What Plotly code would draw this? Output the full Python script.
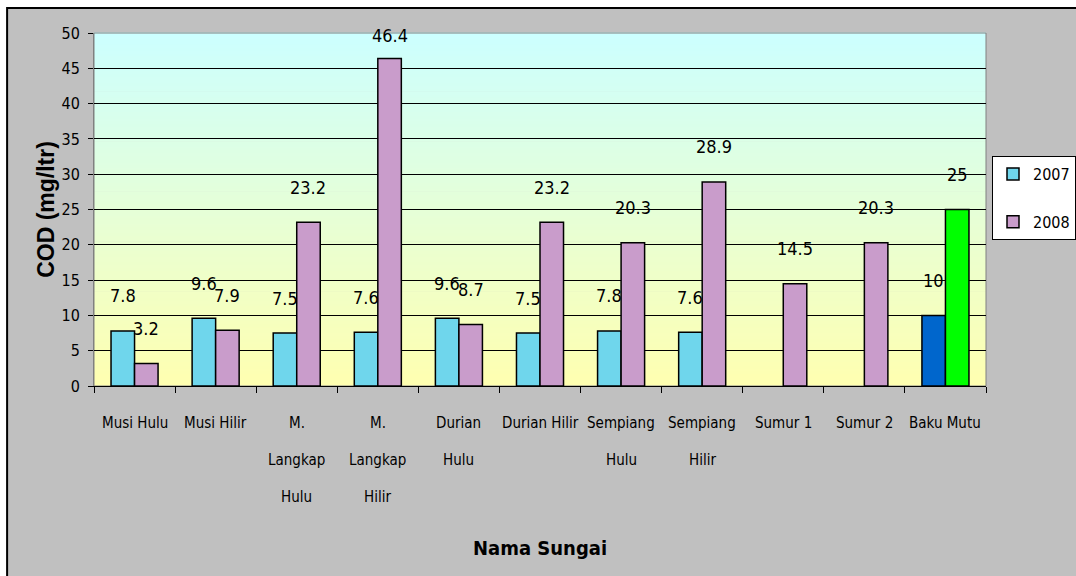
import plotly.graph_objects as go

# ---- data ----
categories = ["Musi Hulu", "Musi Hilir", "M. Langkap Hulu", "M. Langkap Hilir",
              "Durian Hulu", "Durian Hilir", "Sempiang Hulu", "Sempiang Hilir",
              "Sumur 1", "Sumur 2", "Baku Mutu"]
tick_lines = [["Musi Hulu"], ["Musi Hilir"], ["M.", "Langkap", "Hulu"], ["M.", "Langkap", "Hilir"],
              ["Durian", "Hulu"], ["Durian Hilir"], ["Sempiang", "Hulu"], ["Sempiang", "Hilir"],
              ["Sumur 1"], ["Sumur 2"], ["Baku Mutu"]]
v2007 = [7.8, 9.6, 7.5, 7.6, 9.6, 7.5, 7.8, 7.6, None, None, 10]
v2008 = [3.2, 7.9, 23.2, 46.4, 8.7, 23.2, 20.3, 28.9, 14.5, 20.3, 25]
series_names = ["2007", "2008"]
y_ticks = [0, 5, 10, 15, 20, 25, 30, 35, 40, 45, 50]

# ---- style ----
NARROW = "Liberation Sans Narrow, Arial Narrow, DejaVu Sans Condensed, Liberation Sans, sans-serif"
W, H = 1076, 576
ML, MR, MT, MB = 94, 90, 33, 190
BARGAP = 0.42
c2007 = ["#6FD6EC"] * (len(categories) - 1) + ["#0066CC"]
c2008 = ["#C99CCB"] * (len(categories) - 1) + ["#00FF00"]

fig = go.Figure()
fig.add_bar(x=categories, y=v2007, name=series_names[0],
            marker=dict(color=c2007, line=dict(color="black", width=1.5)))
fig.add_bar(x=categories, y=v2008, name=series_names[1],
            marker=dict(color=c2008, line=dict(color="black", width=1.5)))

shapes = []
# outer grey frame
shapes.append(dict(type="rect", xref="paper", yref="paper",
                   x0=(8 - ML) / (W - ML - MR) - 0.001, x1=1.3,
                   y0=-0.8, y1=1 + (MT - 8) / (H - MT - MB),
                   fillcolor="#C0C0C0", line=dict(color="black", width=2), layer="below"))
# gradient plot background (light cyan top -> pale yellow bottom)
N = 120
top = (204, 255, 255)
bot = (255, 255, 176)
for i in range(N):
    t = (i + 0.5) / N
    col = tuple(round(bot[k] + (top[k] - bot[k]) * t) for k in range(3))
    shapes.append(dict(type="rect", xref="paper", yref="paper",
                       x0=0, x1=1, y0=i / N, y1=(i + 1) / N + 0.002,
                       fillcolor="rgb(%d,%d,%d)" % col, line=dict(width=0), layer="below"))
# plot border
shapes.append(dict(type="rect", xref="paper", yref="paper", x0=0, x1=1, y0=0, y1=1,
                   line=dict(color="#808080", width=1), layer="below"))

annotations = []
plot_w = W - ML - MR
cat_w = plot_w / len(categories)
bar_w = cat_w * (1 - BARGAP) / 2
px_per_unit = (H - MT - MB) / 50.0
for vals, sgn in ((v2007, -1), (v2008, 1)):
    for cat, v in zip(categories, vals):
        if v is None:
            continue
        ylab = min(v + 35 / px_per_unit, 49.7)
        annotations.append(dict(x=cat, y=ylab, xref="x", yref="y", text=f"{v:g}",
                                showarrow=False, xshift=sgn * bar_w / 2,
                                font=dict(family=NARROW, size=18, color="black"),
                                xanchor="center", yanchor="middle"))
# category labels (multi-line with wide line spacing)
for cat, lines in zip(categories, tick_lines):
    for j, line in enumerate(lines):
        annotations.append(dict(x=cat, y=0, xref="x", yref="y", text=line,
                                showarrow=False, yshift=-(37 + 37 * j),
                                font=dict(family=NARROW, size=15, color="black"),
                                xanchor="center", yanchor="middle"))
# x title
annotations.append(dict(x=0.5, y=-(548 - (H - MB)) / (H - MT - MB), xref="paper", yref="paper",
                        text="<b>Nama Sungai</b>", showarrow=False,
                        font=dict(family=NARROW, size=20, color="black"),
                        xanchor="center", yanchor="middle"))

fig.update_layout(
    width=W, height=H,
    margin=dict(l=ML, r=MR, t=MT, b=MB, autoexpand=False),
    paper_bgcolor="white", plot_bgcolor="rgba(0,0,0,0)",
    barmode="group", bargap=BARGAP, bargroupgap=0,
    shapes=shapes, annotations=annotations,
    showlegend=True,
    legend=dict(x=(992 - ML) / plot_w, xanchor="left", y=(H - MB - 198) / (H - MT - MB),
                yanchor="middle", bgcolor="white", bordercolor="black", borderwidth=1,
                font=dict(family=NARROW, size=16, color="black"),
                itemwidth=30, tracegroupgap=24),
    xaxis=dict(type="category", showticklabels=False, ticks="outside", ticklen=6,
               tickcolor="black", tickson="boundaries", showline=True, linecolor="black",
               linewidth=1, showgrid=False, fixedrange=True),
    yaxis=dict(range=[0, 50], tickvals=y_ticks, ticks="outside", ticklen=5, tickcolor="black",
               showgrid=True, gridcolor="black", gridwidth=1, showline=True, linecolor="#808080",
               zeroline=False, ticklabelstandoff=5,
               tickfont=dict(family=NARROW, size=16, color="black"),
               title=dict(text="<b>COD (mg/ltr)</b>", standoff=0,
                          font=dict(family="Liberation Sans, Arial, sans-serif", size=23, color="black"))),
)
for i, tr in enumerate(fig.data):
    tr.legendgroup = series_names[i]

fig.write_html("out.html")
